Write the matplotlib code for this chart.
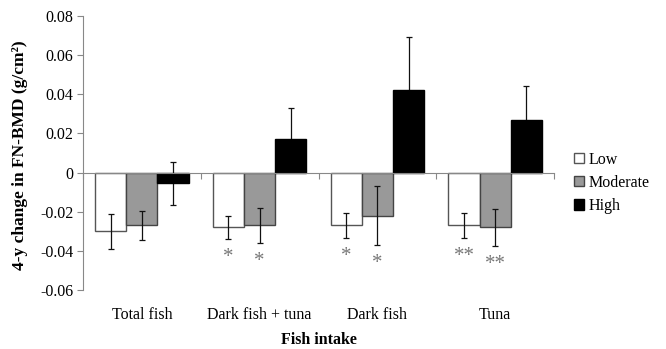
import matplotlib
matplotlib.use('Agg')
import matplotlib.pyplot as plt
import matplotlib.transforms as mtrans
import numpy as np

plt.rcParams['font.family'] = ['Liberation Serif', 'DejaVu Serif']

# data
groups = ['Total fish', 'Dark fish + tuna', 'Dark fish', 'Tuna']
levels = ['Low', 'Moderate', 'High']
low = [-0.030, -0.028, -0.027, -0.027]
low_err = [0.009, 0.006, 0.0065, 0.0065]
moderate = [-0.027, -0.027, -0.022, -0.028]
moderate_err = [0.0072, 0.009, 0.015, 0.0093]
high = [-0.0055, 0.0174, 0.0424, 0.0271]
high_err = [0.011, 0.0155, 0.027, 0.017]
low_stars = ['', '*', '*', '**']
moderate_stars = ['', '*', '*', '**']
yticks = [-0.06, -0.04, -0.02, 0, 0.02, 0.04, 0.06, 0.08]
ytick_labels = ['-0.06', '-0.04', '-0.02', '0', '0.02', '0.04', '0.06', '0.08']

fig = plt.figure(figsize=(6.66, 3.49), dpi=100)
ax = fig.add_axes([0.1246, 0.169, 0.7074, 0.785])

x = np.arange(len(groups))
w = 0.265
edge = '#555555'
err_kw = dict(elinewidth=0.9, ecolor='#111111', capthick=0.9)

ax.bar(x - w, low, w, color='white', edgecolor=edge, linewidth=1,
       yerr=low_err, capsize=2.5, error_kw=err_kw, label=levels[0])
ax.bar(x, moderate, w, color='#999999', edgecolor='#444444', linewidth=1,
       yerr=moderate_err, capsize=2.5, error_kw=err_kw, label=levels[1])
# error bars of the black bars go behind them
ax.bar(x + w, high, w, color='black', edgecolor='black', linewidth=1, zorder=2,
       yerr=high_err, capsize=2.5, error_kw=dict(err_kw, zorder=1.5), label=levels[2])

# significance stars under the error bars
for i in range(len(groups)):
    ax.text(x[i] - w, low[i] - low_err[i] - 0.0095, low_stars[i],
            ha='center', va='center', fontsize=15, color='#777777')
    ax.text(x[i], moderate[i] - moderate_err[i] - 0.0095, moderate_stars[i],
            ha='center', va='center', fontsize=15, color='#777777')

ax.set_xlim(-0.5, len(groups) - 0.5)
ax.set_ylim(-0.06, 0.08)
ax.set_yticks(yticks)
ax.set_yticklabels(ytick_labels, fontsize=11.5)
ax.set_xticks(np.arange(len(groups) + 1) - 0.5)
ax.set_xticklabels([])

for s in ['top', 'right']:
    ax.spines[s].set_visible(False)
ax.spines['bottom'].set_position(('data', 0))
ax.spines['bottom'].set_color('#888888')
ax.spines['left'].set_color('#888888')
ax.tick_params(axis='both', direction='out', length=4, color='#888888', width=0.8)
ax.tick_params(axis='y', pad=3)

# category names along the bottom
trans = mtrans.blended_transform_factory(ax.transData, ax.transAxes)
for i, g in enumerate(groups):
    ax.text(x[i], -0.09, g, transform=trans, ha='center', va='center', fontsize=11.5)

fig.text(0.479, 0.026, 'Fish intake', ha='center', va='center',
         fontsize=11.5, fontweight='bold')
fig.text(0.030, 0.556, '4-y change in FN-BMD (g/cm²)', rotation=90,
         ha='center', va='center', fontsize=12.5, fontweight='bold')

ax.legend(loc='center left', bbox_to_anchor=(0.853, 0.476), bbox_transform=fig.transFigure,
          frameon=False, fontsize=11.5, handlelength=0.6, handleheight=0.6,
          handletextpad=0.3, labelspacing=0.45, borderaxespad=0)

fig.savefig('out.png', dpi=100)
